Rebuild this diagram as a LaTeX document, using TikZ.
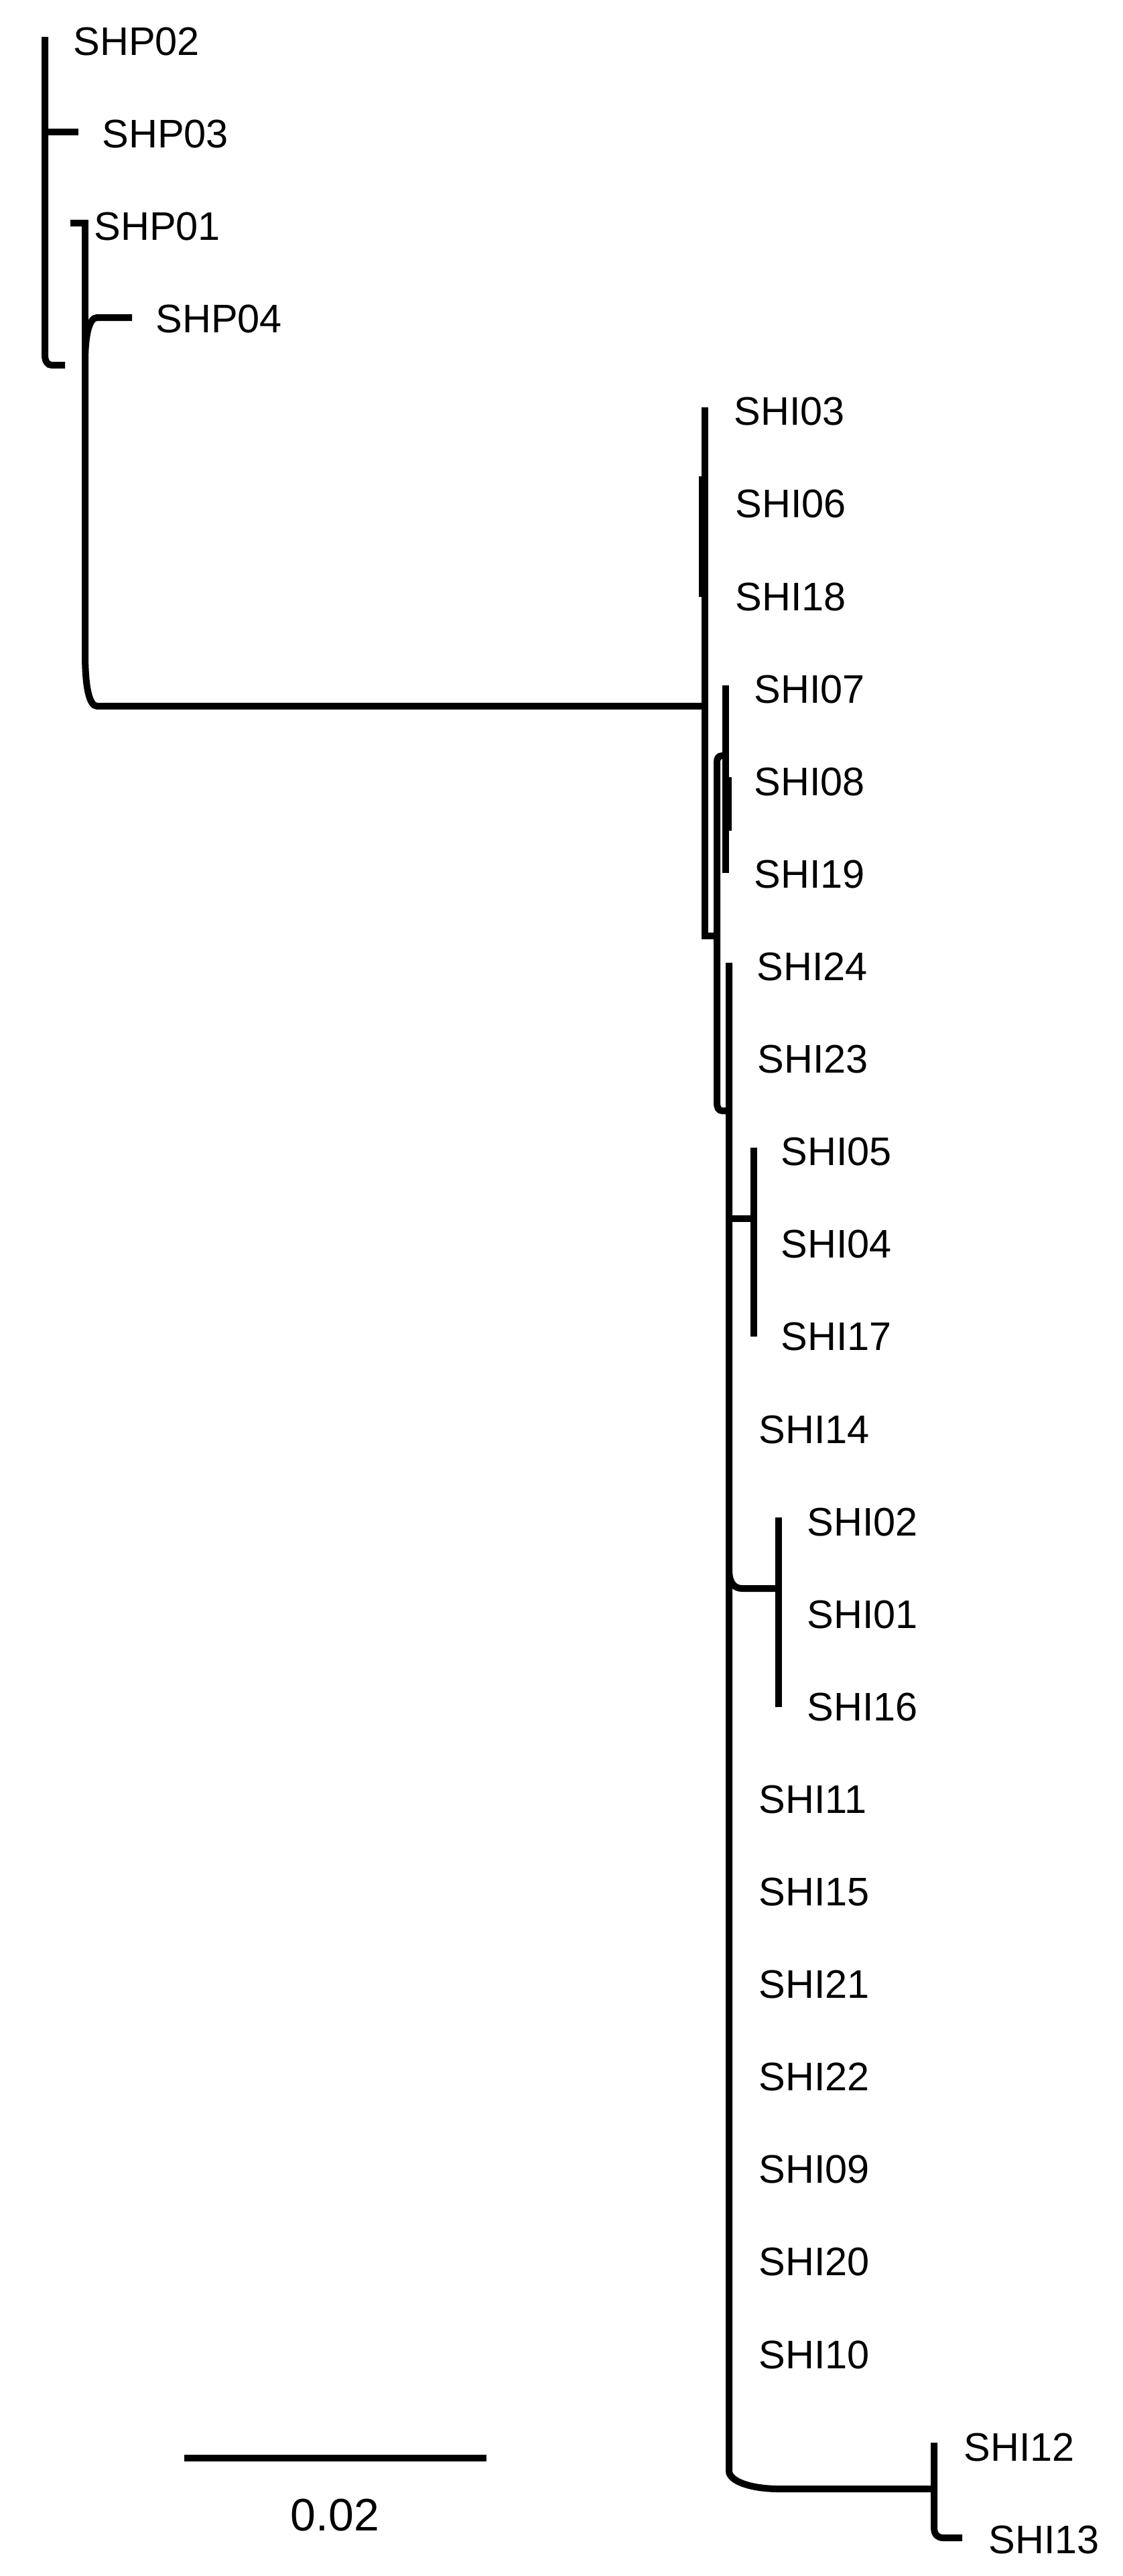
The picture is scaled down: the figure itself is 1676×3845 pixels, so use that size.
\documentclass[tikz,border=0pt]{standalone}
\usepackage{fontspec}
\setmainfont{Liberation Sans}
\begin{document}
\begin{tikzpicture}[x=0.5pt,y=-0.5pt,
  br/.style={line width=5pt,black},
  lab/.style={anchor=west,inner sep=0pt,font=\fontsize{29.75}{36}\selectfont},
  sclab/.style={inner sep=0pt,font=\fontsize{34}{40}\selectfont}]
\fill[white] (0,0) rectangle (1676,3845);
\useasboundingbox (0,0) rectangle (1676,3845);
% labels
\node[lab] (SHP02) at (109,62) {SHP02};
\node[lab] (SHP03) at (152,200) {SHP03};
\node[lab] (SHP01) at (140,338) {SHP01};
\node[lab] (SHP04) at (232,476) {SHP04};
\node[lab] (SHI03) at (1095,614) {SHI03};
\node[lab] (SHI06) at (1097,752) {SHI06};
\node[lab] (SHI18) at (1097,891) {SHI18};
\node[lab] (SHI07) at (1125,1029) {SHI07};
\node[lab] (SHI08) at (1125,1167) {SHI08};
\node[lab] (SHI19) at (1125,1305) {SHI19};
\node[lab] (SHI24) at (1129,1443) {SHI24};
\node[lab] (SHI23) at (1130,1581) {SHI23};
\node[lab] (SHI05) at (1165,1719) {SHI05};
\node[lab] (SHI04) at (1165,1857) {SHI04};
\node[lab] (SHI17) at (1165,1995) {SHI17};
\node[lab] (SHI14) at (1132,2134) {SHI14};
\node[lab] (SHI02) at (1204,2272) {SHI02};
\node[lab] (SHI01) at (1204,2410) {SHI01};
\node[lab] (SHI16) at (1204,2548) {SHI16};
\node[lab] (SHI11) at (1132,2686) {SHI11};
\node[lab] (SHI15) at (1132,2824) {SHI15};
\node[lab] (SHI21) at (1132,2962) {SHI21};
\node[lab] (SHI22) at (1132,3100) {SHI22};
\node[lab] (SHI09) at (1132,3238) {SHI09};
\node[lab] (SHI20) at (1132,3376) {SHI20};
\node[lab] (SHI10) at (1132,3515) {SHI10};
\node[lab] (SHI12) at (1438,3653) {SHI12};
\node[lab] (SHI13) at (1475,3791) {SHI13};
\node[sclab] (sclab) at (500,3754) {0.02};
% tree coordinates
\coordinate (a0) at (67,55);
\coordinate (a3) at (67,197);
\coordinate (t3) at (117,197);
\coordinate (b1) at (97,545);
\coordinate (b0) at (105,333);
\coordinate (c0) at (127,763);
\coordinate (c4) at (197,474);
\coordinate (d0) at (1052,608);
\coordinate (d1) at (1052,1054);
\coordinate (d2) at (1052,1397);
\coordinate (f2) at (1070,1397);
\coordinate (dd0) at (1048,711);
\coordinate (dd1) at (1048,891);
\coordinate (e0) at (1083,1023);
\coordinate (e1) at (1083,1303);
\coordinate (ee0) at (1087,1160);
\coordinate (ee1) at (1087,1240);
\coordinate (f0) at (1083,1128);
\coordinate (g0) at (1088,1437);
\coordinate (g1) at (1088,1658);
\coordinate (gh) at (1088,1819);
\coordinate (h1) at (1125,1819);
\coordinate (h0) at (1125,1713);
\coordinate (h2) at (1125,1995);
\coordinate (gi) at (1088,2343);
\coordinate (i1) at (1162,2371);
\coordinate (i0) at (1162,2265);
\coordinate (i2) at (1162,2548);
\coordinate (j1) at (1394,3715);
\coordinate (j0) at (1394,3646);
\coordinate (j2) at (1436,3788);
\coordinate (s0) at (275,3669);
\coordinate (s1) at (726,3669);
% SHP part
\draw[br] (a0) -- ++(0,475) .. controls +(0,9) and +(-6,0) .. ++(10,15) -- (b1);
\draw[br] (a3) -- (t3);
\draw[br] (b0) -| (c0);
\draw[br] (c4) -- (145,474) .. controls +(-12,0) and +(0,-40) .. (127,540)
  -- (127,975) .. controls +(0,50) and +(-12,0) .. (145,1054) -- (d1);
% SHI part
\draw[br] (d0) -- (d2) -- (f2);
\draw[br] (dd0) -- (dd1);
\draw[br] (e0) -- (e1);
\draw[br] (ee0) -- (ee1);
\draw[br] (f0) -- ++(-5,0) .. controls +(-6,0) and +(0,-6) .. ++(-8,10)
  -- (1070,1645) .. controls +(0,8) and +(-6,0) .. (1078,1658) -- (g1);
\draw[br] (g0) -- (1088,3688) .. controls +(0,16) and +(-41,0) .. (1163,3715) -- (j1);
\draw[br] (gh) -- (h1);
\draw[br] (h0) -- (h2);
\draw[br] (gi) .. controls +(0,20) and +(-12,0) .. (1108,2371) -- (i1);
\draw[br] (i0) -- (i2);
\draw[br] (j0) -- (1394,3772) .. controls +(0,12) and +(-8,0) .. (1408,3788) -- (j2);
% scale bar
\draw[br] (s0) -- (s1);
\end{tikzpicture}
\end{document}
